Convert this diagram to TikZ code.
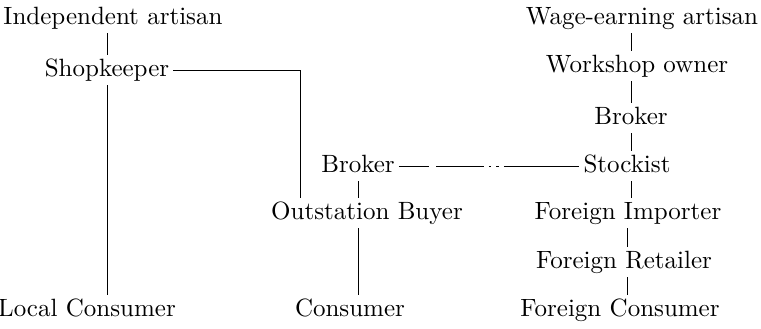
\documentclass[tikz,border=0pt]{standalone}
\begin{document}
\begin{tikzpicture}[x=0.4pt,y=0.4pt,
        every node/.style={inner sep=1.5pt,text height=1.6ex,text depth=0.45ex},
        link/.style={line width=0.4pt},
        brokenlink/.style={line width=0.4pt,dash pattern=on 12pt off 3pt on 19pt off 2pt on 1pt off 2pt on 1pt off 2pt on 40pt}]
        \useasboundingbox (0,0) rectangle (761,-328);
        % home market
        \node (indep) at (113,-18) {Independent artisan};
        \node (shop) at (107,-70) {Shopkeeper};
        \node (local) at (87,-310) {Local Consumer};
        % outstation trade
        \node (brokerm) at (358,-166) {Broker};
        \node (outbuy) at (367,-213) {Outstation Buyer};
        \node (cons) at (350,-310) {Consumer};
        % export trade
        \node (wage) at (642,-18) {Wage-earning artisan};
        \node (work) at (637,-66) {Workshop owner};
        \node (brokerr) at (631,-118) {Broker};
        \node (stock) at (627,-166) {Stockist};
        \node (fimp) at (628,-213) {Foreign Importer};
        \node (fret) at (624,-262) {Foreign Retailer};
        \node (fcons) at (620,-310) {Foreign Consumer};
        \coordinate (turn) at (300,-70);

        \draw[link] (indep.south -| shop) -- (shop.north);
        \draw[link] (shop.south) -- (shop.south |- local.north);
        \draw[link] (shop.east) -- (turn) -- (turn |- outbuy.north);
        \draw[link] (brokerm.south) -- (brokerm.south |- outbuy.north);
        \draw[link] (brokerm.south |- outbuy.south) -- (brokerm.south |- cons.north);
        \draw[brokenlink] (brokerm.east) -- (stock.west);
        \draw[link] (wage.south -| brokerr) -- (work.north -| brokerr);
        \draw[link] (work.south -| brokerr) -- (brokerr.north);
        \draw[link] (brokerr.south) -- (stock.north -| brokerr);
        \draw[link] (stock.south -| brokerr) -- (fimp.north -| brokerr);
        \draw[link] (fimp.south -| stock) -- (fret.north -| stock);
        \draw[link] (fret.south -| stock) -- (fcons.north -| stock);
\end{tikzpicture}
\end{document}
